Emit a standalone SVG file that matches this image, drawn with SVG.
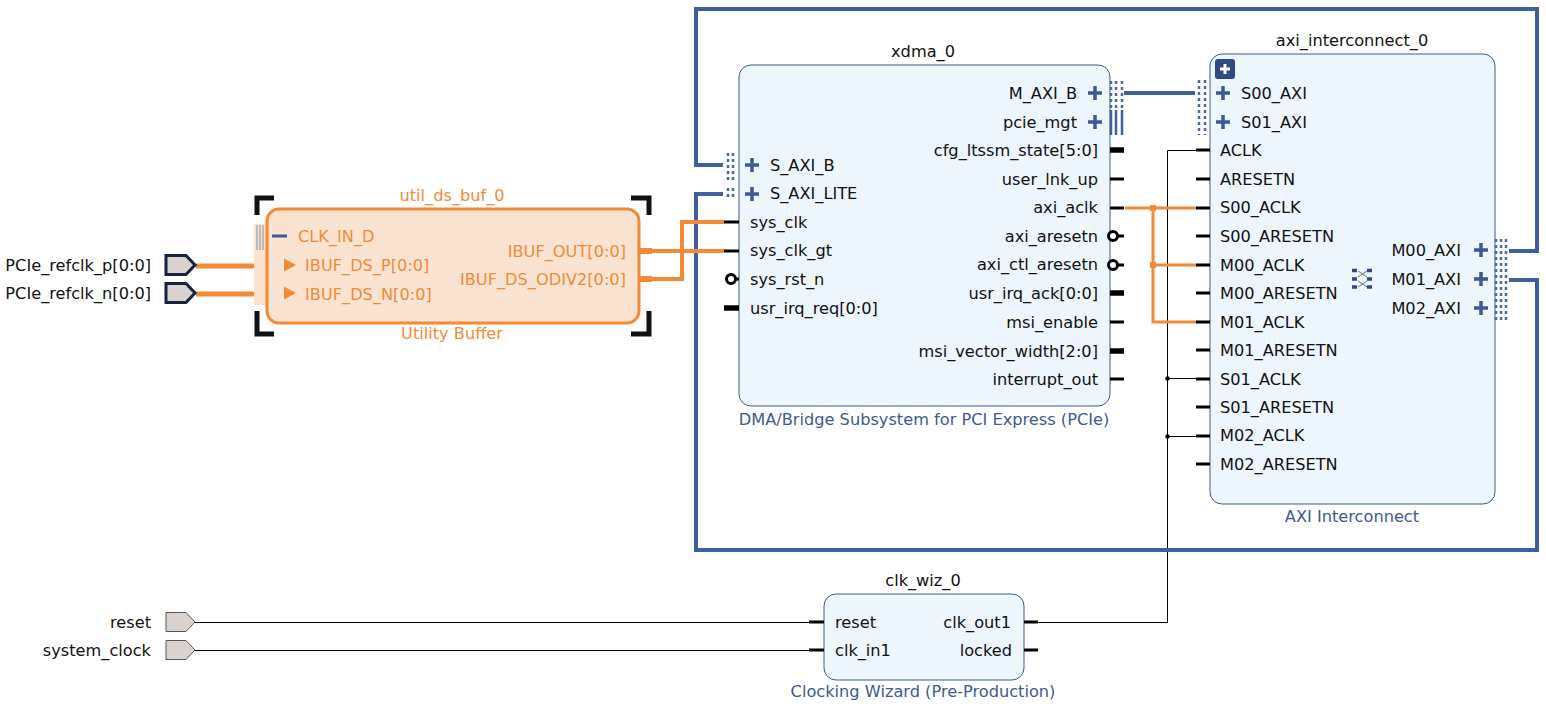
<svg xmlns="http://www.w3.org/2000/svg" xmlns:xlink="http://www.w3.org/1999/xlink" width="1546" height="706" viewBox="0 0 1546 706">
<style>
text{font-family:"DejaVu Sans","Liberation Sans",sans-serif;font-size:16.2px;fill:#111}
.e{text-anchor:end}.m{text-anchor:middle}
.sub{fill:#3d5a94}
.o{fill:#f58a36}
.box{fill:#edf5fd;stroke:#3d5a94;stroke-width:1}
.ext{fill:#d9d2cf;stroke:#15233f;stroke-width:3}
.ext2{fill:#d9d2cf;stroke:#555;stroke-width:1}
.w{fill:none;stroke:#000;stroke-width:1}
.bw{fill:none;stroke:#3f5f9f;stroke-width:4}
.ow{fill:none;stroke:#f58a36;stroke-width:4}
.ow2{fill:none;stroke:#f58a36;stroke-width:3}
.ow3{fill:none;stroke:#f58a36;stroke-width:5}
.p{stroke:#000;stroke-width:3;fill:none}
.pb{stroke:#000;stroke-width:5.500;fill:none}
.d{stroke:#4a68a5;stroke-width:2.500;stroke-dasharray:3 3;fill:none}
.sl{stroke:#3f5f9f;stroke-width:2.500;fill:none}
.plus{stroke:#3d5a94;stroke-width:3.500;fill:none}
.br{stroke:#111;stroke-width:5;fill:none}
</style>
<defs>
<path id="plus" class="plus" d="M-7 0H7M0-7V7"/>
<circle id="inv" r="4.500" fill="#fff" stroke="#000" stroke-width="3"/>
<path id="extp" d="M0-9.500H20L29 0 20 9.500H0Z"/>
<path id="tri" fill="#f58a36" d="M0-6.500 12 0 0 6.500Z"/>
</defs>

<g id="connectors">
<path class="w" d="M195 622.500H810M195 650.500H810"/>
<path class="w" d="M1038 622.500H1167.500V150.500H1197M1167.500 378.500H1197M1167.500 436.500H1197"/>
<circle cx="1167.500" cy="378.500" r="2.200"/><circle cx="1167.500" cy="436.500" r="2.200"/>
<path class="bw" d="M723 165H696V9H1537V251H1509"/>
<path class="bw" d="M1509 280H1537V550H696V194H723"/>
<path class="bw" d="M1124 93H1195"/>
<path class="ow3" d="M196 266H267M196 294H267"/>
<path class="ow" d="M640 251H724M640 279H682V222H724"/>
<path class="ow2" d="M1125 208H1197M1153 208V322H1197M1153 265H1197"/>
<rect x="1150" y="205" width="6" height="6" fill="#f58a36"/><rect x="1150" y="262" width="6" height="6" fill="#f58a36"/>
</g>

<g id="port_reset"><use xlink:href="#extp" x="166" y="622" class="ext2"/><text class="e" x="151" y="628">reset</text></g>
<g id="port_system_clock"><use xlink:href="#extp" x="166" y="650" class="ext2"/><text class="e" x="151" y="656">system_clock</text></g>
<g id="port_PCIe_refclk_p"><use xlink:href="#extp" x="166" y="265" class="ext"/><text class="e" x="151" y="271">PCIe_refclk_p[0:0]</text></g>
<g id="port_PCIe_refclk_n"><use xlink:href="#extp" x="166" y="293" class="ext"/><text class="e" x="151" y="299">PCIe_refclk_n[0:0]</text></g>

<g id="util_ds_buf_0">
<rect x="254" y="224" width="13" height="81" fill="#fbe3d2"/>
<path d="M257 225V250M260 225V250M263 225V250" stroke="#bbb" stroke-width="2"/>
<path class="br" d="M257 215V198H274M257 311V334H274M631 198H649V215M631 334H649V311"/>
<rect x="267" y="209" width="372" height="114" rx="12" fill="#fbe3d2" stroke="#f58a36" stroke-width="3"/>
<text class="m o" x="452" y="201">util_ds_buf_0</text>
<path d="M272 236H287" stroke="#3d5a94" stroke-width="3"/>
<text class="o" x="298" y="242">CLK_IN_D</text>
<use xlink:href="#tri" x="284" y="265"/><text class="o" x="305" y="271">IBUF_DS_P[0:0]</text>
<use xlink:href="#tri" x="284" y="293"/><text class="o" x="305" y="300">IBUF_DS_N[0:0]</text>
<text class="e o" x="626" y="257">IBUF_OUT[0:0]</text>
<text class="e o" x="626" y="285">IBUF_DS_ODIV2[0:0]</text>
<path d="M640 251H652M640 279H652" stroke="#f58a36" stroke-width="6"/>
<text class="m o" x="452" y="339">Utility Buffer</text>
</g>

<g id="xdma_0">
<rect class="box" x="739" y="65" width="371" height="341" rx="12"/>
<text class="m" x="923" y="57">xdma_0</text>
<text class="m sub" x="924" y="425">DMA/Bridge Subsystem for PCI Express (PCIe)</text>
<path class="d" d="M728 153V182M733 153V182"/>
<path class="d" d="M728 188V199M733 188V199"/>
<use xlink:href="#plus" x="752" y="165"/><text x="770" y="171">S_AXI_B</text>
<use xlink:href="#plus" x="752" y="194"/><text x="770" y="199">S_AXI_LITE</text>
<path class="p" d="M724 222H739M724 251H739M732 279H739"/>
<path class="pb" d="M724 308H739"/>
<use xlink:href="#inv" x="731" y="279"/>
<text x="750" y="228">sys_clk</text><text x="750" y="256">sys_clk_gt</text>
<text x="750" y="285">sys_rst_n</text><text x="750" y="314">usr_irq_req[0:0]</text>
<text class="e" x="1077" y="99">M_AXI_B</text><use xlink:href="#plus" x="1095" y="93"/>
<text class="e" x="1077" y="128">pcie_mgt</text><use xlink:href="#plus" x="1095" y="122"/>
<path class="d" d="M1111 81V108M1116 81V108M1122 81V108"/>
<path class="sl" d="M1111 110V135M1116 110V135M1122 110V135"/>
<g class="t">
<text class="e" x="1098" y="156">cfg_ltssm_state[5:0]</text>
<text class="e" x="1098" y="185">user_lnk_up</text>
<text class="e" x="1098" y="213">axi_aclk</text>
<text class="e" x="1098" y="242">axi_aresetn</text>
<text class="e" x="1098" y="270">axi_ctl_aresetn</text>
<text class="e" x="1098" y="299">usr_irq_ack[0:0]</text>
<text class="e" x="1098" y="328">msi_enable</text>
<text class="e" x="1098" y="357">msi_vector_width[2:0]</text>
<text class="e" x="1098" y="385">interrupt_out</text>
</g>
<path class="pb" d="M1110 150H1124M1110 293H1124M1110 351H1124"/>
<path class="p" d="M1110 179H1124M1110 208H1124M1115 236H1124M1115 265H1124M1110 322H1124M1110 379H1124"/>
<use xlink:href="#inv" x="1113" y="236"/><use xlink:href="#inv" x="1113" y="265"/>
</g>

<g id="axi_interconnect_0">
<rect class="box" x="1210" y="54" width="285" height="450" rx="12"/>
<text class="m" x="1352" y="46">axi_interconnect_0</text>
<text class="m sub" x="1352" y="522">AXI Interconnect</text>
<rect x="1215" y="59" width="20" height="20" rx="3" fill="#2f4a80"/>
<path d="M1220 69H1230M1225 64V74" stroke="#fff" stroke-width="3"/>
<path class="d" d="M1199 80V135M1205 80V135"/>
<use xlink:href="#plus" x="1223" y="93"/><text x="1241" y="99">S00_AXI</text>
<use xlink:href="#plus" x="1223" y="122"/><text x="1241" y="128">S01_AXI</text>
<path class="p" d="M1196 150H1210M1196 179H1210M1196 208H1210M1196 236H1210M1196 265H1210M1196 293H1210M1196 322H1210M1196 350H1210M1196 379H1210M1196 407H1210M1196 436H1210M1196 464H1210"/>
<text x="1220" y="156">ACLK</text>
<text x="1220" y="185">ARESETN</text>
<text x="1220" y="213">S00_ACLK</text>
<text x="1220" y="242">S00_ARESETN</text>
<text x="1220" y="271">M00_ACLK</text>
<text x="1220" y="299">M00_ARESETN</text>
<text x="1220" y="328">M01_ACLK</text>
<text x="1220" y="356">M01_ARESETN</text>
<text x="1220" y="385">S01_ACLK</text>
<text x="1220" y="413">S01_ARESETN</text>
<text x="1220" y="441">M02_ACLK</text>
<text x="1220" y="470">M02_ARESETN</text>
<text class="e" x="1461" y="256">M00_AXI</text><use xlink:href="#plus" x="1481" y="250"/>
<text class="e" x="1461" y="285">M01_AXI</text><use xlink:href="#plus" x="1481" y="279"/>
<text class="e" x="1461" y="314">M02_AXI</text><use xlink:href="#plus" x="1481" y="308"/>
<path class="d" d="M1496 239V320M1501 239V320M1506 239V320"/>
<g id="xbar-icon"><path d="M1352 270.500H1357M1352 279H1357M1352 287H1357M1367 270.500H1372M1367 279H1372M1367 287H1372" stroke="#2f4a80" stroke-width="3.500"/><path d="M1358 271L1367 277M1367 271L1358 277M1358 281L1367 287M1367 281L1358 287" stroke="#555" stroke-width="0.800"/></g>
</g>

<g id="clk_wiz_0">
<rect class="box" x="824" y="594" width="200" height="86" rx="12"/>
<text class="m" x="923" y="586">clk_wiz_0</text>
<text class="m sub" x="923" y="697">Clocking Wizard (Pre-Production)</text>
<path class="p" d="M809 622H824M809 650H824M1024 622H1038M1024 650H1038"/>
<text x="835" y="628">reset</text><text x="835" y="656">clk_in1</text>
<text class="e" x="1011" y="628">clk_out1</text><text class="e" x="1012" y="656">locked</text>
</g>
</svg>
